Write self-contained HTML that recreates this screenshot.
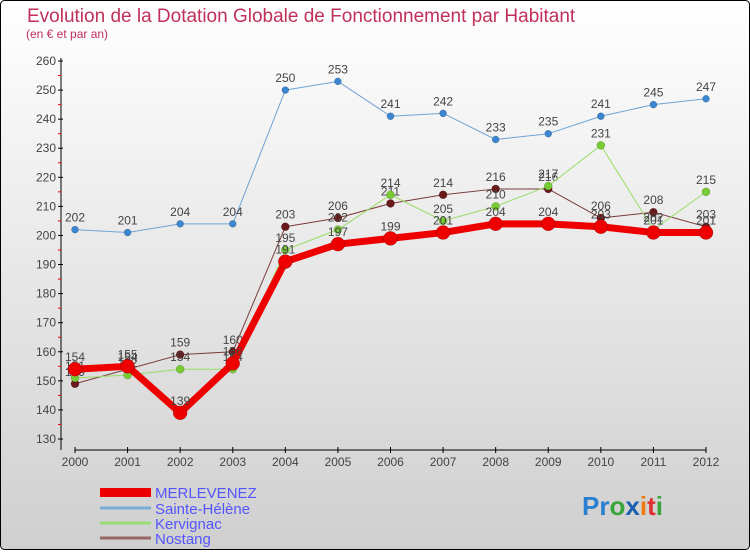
<!DOCTYPE html>
<html><head><meta charset="utf-8"><style>
body{margin:0;width:750px;height:550px;overflow:hidden;font-family:"Liberation Sans",sans-serif}
</style></head><body>
<svg id="c" width="750" height="550" xmlns="http://www.w3.org/2000/svg">
<defs><linearGradient id="bg" x1="0" y1="0" x2="0" y2="1"><stop offset="0" stop-color="#ffffff"/><stop offset="1" stop-color="#cfcfcf"/></linearGradient></defs>
<rect x="0.5" y="0.5" width="749" height="549" rx="4" fill="url(#bg)" stroke="#000"/>
<text x="27" y="22" font-size="19" fill="#c0305a">Evolution de la Dotation Globale de Fonctionnement par Habitant</text>
<text x="26" y="38" font-size="12" fill="#c0305a">(en € et par an)</text>
<g id="axes"></g><g id="series"></g>
<g>
<rect x="100" y="488" width="51" height="9" fill="#e00"/>
<text x="155" y="498" font-size="15" fill="#5555ff">MERLEVENEZ</text>
<line x1="100" y1="508" x2="151" y2="508" stroke="#7aaed8" stroke-width="3"/>
<text x="155" y="514" font-size="15" fill="#5555ff">Sainte-Hélène</text>
<line x1="100" y1="523" x2="151" y2="523" stroke="#99dd77" stroke-width="3"/>
<text x="155" y="529" font-size="15" fill="#5555ff">Kervignac</text>
<line x1="100" y1="538" x2="151" y2="538" stroke="#996666" stroke-width="3"/>
<text x="155" y="544" font-size="15" fill="#5555ff">Nostang</text>
</g>
<g font-size="26" font-weight="bold">
<text x="582" y="515"><tspan fill="#2a7fd0">Pr</tspan><tspan fill="#3aa53a">o</tspan><tspan fill="#1a5fb0">x</tspan><tspan fill="#f07a10">i</tspan><tspan fill="#e03030">t</tspan><tspan fill="#3aa53a">i</tspan></text>
</g>
</svg>
<script>
const years=[2000,2001,2002,2003,2004,2005,2006,2007,2008,2009,2010,2011,2012];
const yTicks=[130,140,150,160,170,180,190,200,210,220,230,240,250,260];
const merlevenez=[154,155,139,156,191,197,199,201,204,204,203,201,201];
const sainteHelene=[202,201,204,204,250,253,241,242,233,235,241,245,247];
const kervignac=[151,152,154,154,195,202,214,205,210,217,231,202,215];
const nostang=[149,154,159,160,203,206,211,214,216,216,206,208,203];
const NS='http://www.w3.org/2000/svg';
const X=i=>75+i*(706-75)/12;
const Y=v=>61+(260-v)*(439-61)/130;
function mk(t,a,p){const e=document.createElementNS(NS,t);for(const k in a)e.setAttribute(k,a[k]);p.appendChild(e);return e;}
const ax=document.getElementById('axes');
let l=mk('line',{x1:61,y1:58,x2:61,y2:450,stroke:'#000'},ax);


l=mk('line',{x1:75,y1:450,x2:706,y2:450,stroke:'#000'},ax);


yTicks.forEach((v,i)=>{
 mk('line',{x1:58,y1:Y(v),x2:63,y2:Y(v),stroke:'#000'},ax);
 if(i<yTicks.length-1) mk('line',{x1:58,y1:Y(v+5),x2:61,y2:Y(v+5),stroke:'#e00'},ax);
 const t=mk('text',{x:56,y:Y(v)+4,'font-size':12,fill:'#444','text-anchor':'end'},ax);
 t.textContent=v;
 
 
});
years.forEach((yr,i)=>{
 mk('line',{x1:X(i),y1:447,x2:X(i),y2:453,stroke:'#000'},ax);
 const t=mk('text',{x:X(i),y:466,'font-size':12,fill:'#444','text-anchor':'middle'},ax);
 t.textContent=yr;
 
 
});
const sg=document.getElementById('series');
function draw(vals,name,color,dot,w,r){
 const g=mk('g',{},sg);
 
 
 const p=mk('polyline',{points:vals.map((v,i)=>X(i)+','+Y(v)).join(' '),fill:'none',stroke:color,'stroke-width':w,'stroke-linejoin':'round'},g);
 
 
 vals.forEach((v,i)=>{
  const c=mk('circle',{cx:X(i),cy:Y(v),r:r,fill:dot,stroke:'rgba(0,0,0,0.3)','stroke-width':0.5},g);
  
  
  const t=mk('text',{x:X(i),y:Y(v)-8,'font-size':12,fill:'#444','text-anchor':'middle'},g);
  t.textContent=v;
  
  
 });
}
draw(sainteHelene,'sainte-helene','#6fa4d6','#3a86d0',1,3.5);
draw(nostang,'nostang','#7a3a3a','#6a1a1a',1,4);
draw(kervignac,'kervignac','#99dd66','#77cc33',1,4);
draw(merlevenez,'merlevenez','#ee0000','#ee0000',7,7);
</script>
</body></html>
